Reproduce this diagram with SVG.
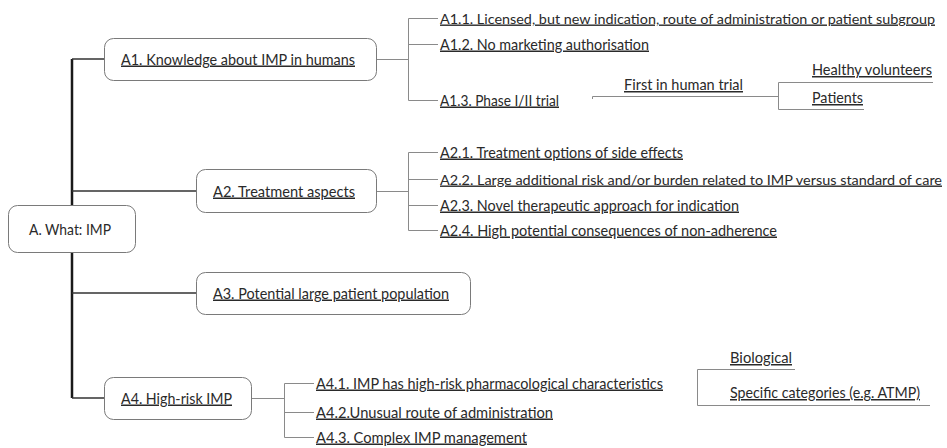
<svg xmlns="http://www.w3.org/2000/svg" width="947" height="448" viewBox="0 0 947 448">
<style>
.box{fill:#fff;stroke:#7a7a7a;stroke-width:1}
.t{font-family:Lato,"Liberation Sans",sans-serif;font-size:15px;fill:#2a2a2a}
.s{font-size:14px}
.u{text-decoration:underline}
.trunk{fill:none;stroke:#1a1a1a;stroke-width:2.5}
.main{fill:none;stroke:#333;stroke-width:1.4}
.sub{fill:none;stroke:#8a8a8a;stroke-width:1}
</style>
<rect width="947" height="448" fill="#fff"/>
<g id="connectors">
<path class="trunk" d="M72,59V398"/>
<path class="main" d="M72,59H104M72,191H196M72,293H196M72,398H104"/>
<path class="sub" d="M376,59.5H408.5M408.5,18.5V100.5M408.5,18.5H438M408.5,44.5H438M408.5,100.5H438"/>
<path class="sub" d="M592.5,99V96.5H778.5M778.5,82.5V109.5M778.5,82.5H933M778.5,109.5H864"/>
<path class="sub" d="M376,191.5H408.5M408.5,152.5V230.5M408.5,152.5H438M408.5,179.5H438M408.5,205.5H438M408.5,230.5H438"/>
<path class="sub" d="M251,398.5H284.5M284.5,383.5V437.5M284.5,383.5H314M284.5,412.5H314M284.5,437.5H314"/>
<path class="sub" d="M795,369.5H697.5V405.5H930"/>
</g>
<g id="root"><rect class="box" x="8.5" y="205.5" width="127" height="47" rx="9"/><text class="t" x="29" y="234.5" textLength="82" lengthAdjust="spacingAndGlyphs">A. What: IMP</text></g>
<g id="A1"><rect class="box" x="104.5" y="38.5" width="272" height="42" rx="9"/><text class="t u" x="121" y="64.5" textLength="234" lengthAdjust="spacingAndGlyphs">A1. Knowledge about IMP in humans</text></g>
<g id="A2"><rect class="box" x="196.5" y="169.5" width="180" height="43" rx="9"/><text class="t u" x="213" y="196.5" textLength="142" lengthAdjust="spacingAndGlyphs">A2. Treatment aspects</text></g>
<g id="A3"><rect class="box" x="196.5" y="272.5" width="274" height="42" rx="9"/><text class="t u" x="213" y="298.5" textLength="236" lengthAdjust="spacingAndGlyphs">A3. Potential large patient population</text></g>
<g id="A4"><rect class="box" x="104.5" y="377.5" width="147" height="42" rx="9"/><text class="t u" x="121" y="403.5" textLength="111" lengthAdjust="spacingAndGlyphs">A4. High-risk IMP</text></g>
<g id="A1-1"><text class="t s u" x="440" y="23.5" textLength="495" lengthAdjust="spacingAndGlyphs">A1.1. Licensed, but new indication, route of administration or patient subgroup</text></g>
<g id="A1-2"><text class="t u" x="440" y="49.5" textLength="209" lengthAdjust="spacingAndGlyphs">A1.2. No marketing authorisation</text></g>
<g id="A1-3"><text class="t u" x="440" y="105.5" textLength="119" lengthAdjust="spacingAndGlyphs">A1.3. Phase I/II trial</text></g>
<g id="FIH"><text class="t u" x="624" y="90" textLength="119" lengthAdjust="spacingAndGlyphs">First in human trial</text></g>
<g id="HV"><text class="t u" x="812" y="75" textLength="120" lengthAdjust="spacingAndGlyphs">Healthy volunteers</text></g>
<g id="PT"><text class="t u" x="812" y="103" textLength="51" lengthAdjust="spacingAndGlyphs">Patients</text></g>
<g id="A2-1"><text class="t u" x="440" y="157.5" textLength="243" lengthAdjust="spacingAndGlyphs">A2.1. Treatment options of side effects</text></g>
<g id="A2-2"><text class="t s u" x="440" y="184.5" textLength="502" lengthAdjust="spacingAndGlyphs">A2.2. Large additional risk and/or burden related to IMP versus standard of care</text></g>
<g id="A2-3"><text class="t u" x="440" y="210.5" textLength="299" lengthAdjust="spacingAndGlyphs">A2.3. Novel therapeutic approach for indication</text></g>
<g id="A2-4"><text class="t u" x="440" y="235.5" textLength="337" lengthAdjust="spacingAndGlyphs">A2.4. High potential consequences of non-adherence</text></g>
<g id="A4-1"><text class="t u" x="316" y="388.5" textLength="347" lengthAdjust="spacingAndGlyphs">A4.1. IMP has high-risk pharmacological characteristics</text></g>
<g id="A4-2"><text class="t u" x="316" y="417.5" textLength="237" lengthAdjust="spacingAndGlyphs">A4.2.Unusual route of administration</text></g>
<g id="A4-3"><text class="t u" x="316" y="442.5" textLength="211" lengthAdjust="spacingAndGlyphs">A4.3. Complex IMP management</text></g>
<g id="BIO"><text class="t u" x="730" y="363" textLength="62" lengthAdjust="spacingAndGlyphs">Biological</text></g>
<g id="SPEC"><text class="t u" x="730" y="398" textLength="190" lengthAdjust="spacingAndGlyphs">Specific categories (e.g. ATMP)</text></g>
</svg>
